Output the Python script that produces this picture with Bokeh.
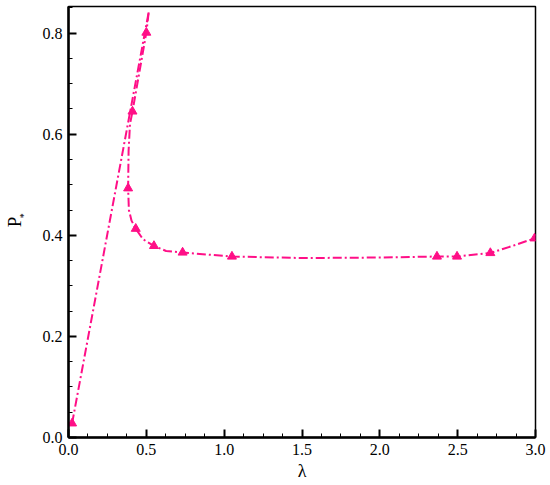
from bokeh.plotting import figure
from bokeh.models import Range1d, SingleIntervalTicker, FixedTicker, LinearAxis
from bokeh.embed import file_html
from bokeh.resources import INLINE

# Marker points (lambda, P*)
lam_pts = [0.023, 0.383, 0.411, 0.50, 0.432, 0.549, 0.733, 1.05, 2.367, 2.496, 2.71, 2.994]
p_pts   = [0.028, 0.493, 0.645, 0.801, 0.413, 0.379, 0.366, 0.358, 0.358, 0.358, 0.365, 0.394]

# Left straight branch
lam_left = [0.023, 0.515]
p_left   = [0.028, 0.841]

# Right / lower branch
lam_curve = [0.515, 0.50, 0.455, 0.411, 0.395, 0.386, 0.383, 0.388, 0.405, 0.432, 0.479,
             0.549, 0.627, 0.733, 1.05, 1.5, 2.0, 2.367, 2.496, 2.71, 2.852, 2.994]
p_curve   = [0.841, 0.801, 0.722, 0.645, 0.620, 0.567, 0.493, 0.450, 0.429, 0.413, 0.392,
             0.379, 0.369, 0.366, 0.358, 0.355, 0.356, 0.358, 0.358, 0.365, 0.379, 0.394]

x_ticks = [0.0, 0.5, 1.0, 1.5, 2.0, 2.5, 3.0]
y_ticks = [0.0, 0.2, 0.4, 0.6, 0.8]

COLOR = "#ff0f87"
FONT = "Liberation Serif, Times New Roman, serif"

p = figure(width=550, height=485, output_backend="svg", toolbar_location=None,
           x_range=Range1d(0, 3.0), y_range=Range1d(0, 0.8526),
           min_border_left=63, min_border_right=15, min_border_top=6, min_border_bottom=48)

p.grid.visible = False
p.background_fill_color = "white"
p.border_fill_color = "white"
p.outline_line_color = "black"
p.outline_line_width = 1.5

p.line(lam_left, p_left, line_color=COLOR, line_width=2, line_dash="9 3 2 3")
p.line(lam_curve, p_curve, line_color=COLOR, line_width=2, line_dash="9 3 2 3")
p.scatter(lam_pts, p_pts, marker="triangle", size=9, fill_color=COLOR, line_color=COLOR)

p.xaxis.ticker = SingleIntervalTicker(interval=0.5, num_minor_ticks=4)
p.yaxis.ticker = SingleIntervalTicker(interval=0.2, num_minor_ticks=4)
p.xaxis.major_label_overrides = {t: f"{t:.1f}" for t in x_ticks}
p.yaxis.major_label_overrides = {t: f"{t:.1f}" for t in y_ticks}

for ax in (p.xaxis[0], p.yaxis[0]):
    ax.axis_line_width = 2.5
    ax.axis_line_color = "black"
    ax.major_tick_in = 8
    ax.major_tick_out = 0
    ax.minor_tick_in = 4
    ax.minor_tick_out = 0
    ax.major_tick_line_width = 2
    ax.minor_tick_line_width = 1
    ax.major_label_text_font = FONT
    ax.major_label_text_font_size = "16px"
    ax.major_label_text_font_style = "normal"
    ax.major_label_text_color = "black"
    ax.major_label_standoff = 6

# x-axis title
p.xaxis.axis_label = "λ"
p.xaxis.axis_label_text_font = FONT
p.xaxis.axis_label_text_font_size = "18px"
p.xaxis.axis_label_text_font_style = "normal"
p.xaxis.axis_label_text_color = "black"
p.xaxis.axis_label_standoff = 3

# y-axis title: subscript asterisk on the inner axis, "P" on an outer label-only axis
p.yaxis.axis_label = "\u00a0\u00a0\u00a0\u00a0\u00a0*"
p.yaxis.axis_label_text_font = FONT
p.yaxis.axis_label_text_font_size = "10px"
p.yaxis.axis_label_text_font_style = "normal"
p.yaxis.axis_label_text_color = "black"
p.yaxis.axis_label_standoff = 11

ax2 = LinearAxis(ticker=FixedTicker(ticks=[]), axis_label="P",
                 axis_line_color=None, major_tick_line_color=None, minor_tick_line_color=None,
                 major_tick_in=0, major_tick_out=0, minor_tick_in=0, minor_tick_out=0,
                 major_label_standoff=0, major_label_text_font_size="1px",
                 axis_label_text_font=FONT, axis_label_text_font_size="19px",
                 axis_label_text_font_style="normal", axis_label_text_color="black",
                 axis_label_standoff=-10)
p.add_layout(ax2, "left")

open("out.html", "w").write(file_html(p, INLINE))
